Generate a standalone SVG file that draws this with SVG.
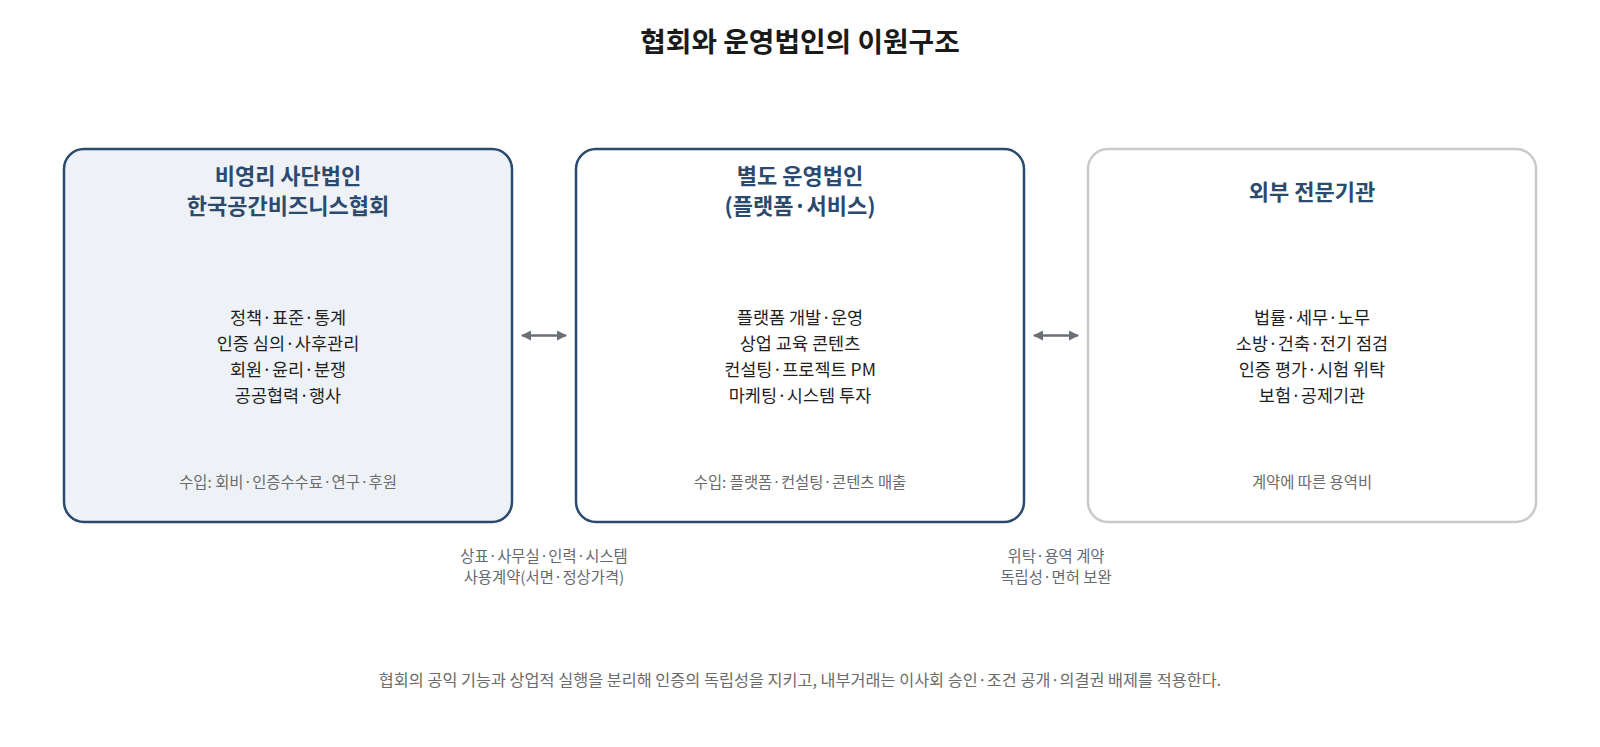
<svg xmlns="http://www.w3.org/2000/svg" width="1600" height="747" viewBox="0 0 1600 747">
<style>
text{font-family:"Noto Sans CJK KR","Noto Sans",sans-serif;text-anchor:middle}
.title{font-size:27.8px;font-weight:700;fill:#1a1a1a}
.ntitle{font-size:22px;font-weight:700;fill:#2b4a6e}
.body{font-size:17.5px;fill:#1f1f1f}
.rev{font-size:15.4px;fill:#6b6b6b}
.lbl{font-size:15.4px;fill:#666a70}
.foot{font-size:16.3px;fill:#6b6b6b}
.box{stroke-width:2.5}
.conn{stroke:#6b7078;stroke-width:2.5;fill:none}
</style>
<defs>
<marker id="ah" viewBox="0 0 10 10" refX="9" refY="5" markerWidth="4" markerHeight="4" orient="auto-start-reverse">
<path d="M0,0 L10,5 L0,10 z" fill="#6b7078"/>
</marker>
</defs>
<rect width="1600" height="747" fill="#ffffff"/>
<text class="title" x="800" y="51.5">협회와 운영법인의 이원구조</text>
<g id="node-association">
<rect class="box" x="64" y="149" width="448" height="373" rx="20" fill="#eef2f7" stroke="#2b4a6e"/>
<text class="ntitle" x="288" y="184">비영리 사단법인</text>
<text class="ntitle" x="288" y="213.5">한국공간비즈니스협회</text>
<text class="body" x="288" y="324">정책·표준·통계</text>
<text class="body" x="288" y="349.5">인증 심의·사후관리</text>
<text class="body" x="288" y="375.5">회원·윤리·분쟁</text>
<text class="body" x="288" y="401.5">공공협력·행사</text>
<text class="rev" x="288" y="488">수입: 회비·인증수수료·연구·후원</text>
</g>
<g id="node-company">
<rect class="box" x="576" y="149" width="448" height="373" rx="20" fill="#ffffff" stroke="#2b4a6e"/>
<text class="ntitle" x="800" y="184">별도 운영법인</text>
<text class="ntitle" x="800" y="213.5">(플랫폼·서비스)</text>
<text class="body" x="800" y="324">플랫폼 개발·운영</text>
<text class="body" x="800" y="349.5">상업 교육 콘텐츠</text>
<text class="body" x="800" y="375.5">컨설팅·프로젝트 PM</text>
<text class="body" x="800" y="401.5">마케팅·시스템 투자</text>
<text class="rev" x="800" y="488">수입: 플랫폼·컨설팅·콘텐츠 매출</text>
</g>
<g id="node-external">
<rect class="box" x="1088" y="149" width="448" height="373" rx="20" fill="#ffffff" stroke="#c8cacd"/>
<text class="ntitle" x="1312" y="200">외부 전문기관</text>
<text class="body" x="1312" y="324">법률·세무·노무</text>
<text class="body" x="1312" y="349.5">소방·건축·전기 점검</text>
<text class="body" x="1312" y="375.5">인증 평가·시험 위탁</text>
<text class="body" x="1312" y="401.5">보험·공제기관</text>
<text class="rev" x="1312" y="488">계약에 따른 용역비</text>
</g>
<g id="connectors">
<line class="conn" x1="522" y1="335.5" x2="566" y2="335.5" marker-start="url(#ah)" marker-end="url(#ah)"/>
<line class="conn" x1="1034" y1="335.5" x2="1078" y2="335.5" marker-start="url(#ah)" marker-end="url(#ah)"/>
<text class="lbl" x="544" y="562">상표·사무실·인력·시스템</text>
<text class="lbl" x="544" y="583">사용계약(서면·정상가격)</text>
<text class="lbl" x="1056" y="562">위탁·용역 계약</text>
<text class="lbl" x="1056" y="583">독립성·면허 보완</text>
</g>
<text class="foot" x="800" y="686">협회의 공익 기능과 상업적 실행을 분리해 인증의 독립성을 지키고, 내부거래는 이사회 승인·조건 공개·의결권 배제를 적용한다.</text>
</svg>
